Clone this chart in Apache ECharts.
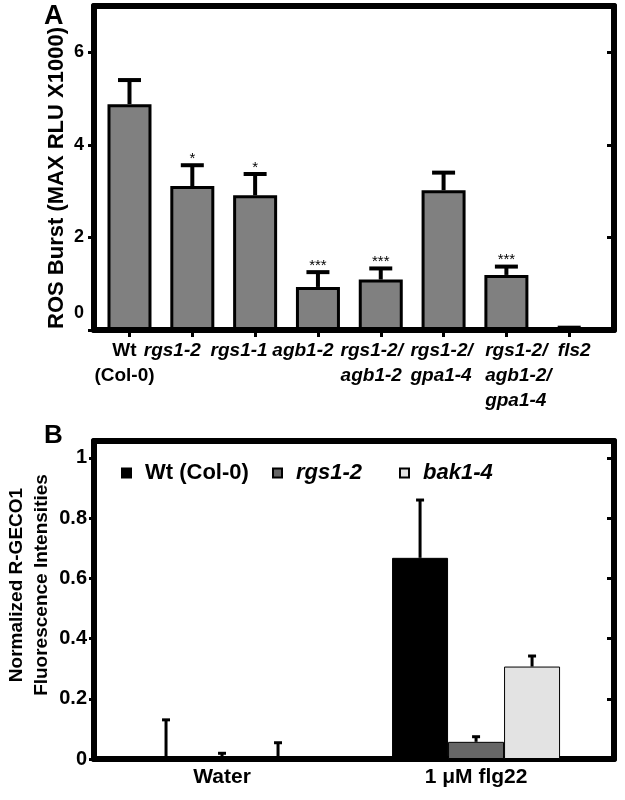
<!DOCTYPE html>
<html>
<head>
<meta charset="utf-8">
<script src="https://cdn.jsdelivr.net/npm/echarts@6/dist/echarts.min.js"></script>
<style>html,body{margin:0;padding:0;background:#fff;}#chart{width:625px;height:800px;}</style>
</head>
<body>
<div id="chart"></div>
<script>
// ---------- Panel A data ----------
const categoriesA = ['Wt\n(Col-0)', 'rgs1-2', 'rgs1-1', 'agb1-2', 'rgs1-2/\nagb1-2', 'rgs1-2/\ngpa1-4', 'rgs1-2/\nagb1-2/\ngpa1-4', 'fls2'];
const rosMean = [4.88, 3.11, 2.91, 0.93, 1.09, 3.02, 1.19, 0.02];
const rosErr = [0.52, 0.45, 0.46, 0.32, 0.24, 0.38, 0.18, 0.03];
const sigA = ['', '*', '*', '***', '***', '', '***', ''];
const ticksA = [0, 2, 4, 6];
const yTitleA = 'ROS Burst (MAX RLU X1000)';

// ---------- Panel B data ----------
const treatments = ['Water', '1 μM flg22'];
const genotypesB = ['Wt (Col-0)', 'rgs1-2', 'bak1-4'];
const wtB = [0, 0.668];
const wtErrB = [0.13, 0.192];
const rgsB = [0, 0.057];
const rgsErrB = [0.019, 0.017];
const bakB = [0, 0.307];
const bakErrB = [0.054, 0.035];
const yTitleB = 'Normalized R-GECO1\nFluorescence Intensities';

// ---------- styling ----------
const FF = '"Liberation Sans", Arial, Helvetica, sans-serif';
const BLACK = '#000';
const meansB = [wtB, rgsB, bakB];
const errsB = [wtErrB, rgsErrB, bakErrB];
const colorsB = ['#000000', '#666666', '#e3e3e3'];
const BW_B = 56;
const legendLeft = [116, 267, 394];

const idxA = categoriesA.map((_, i) => i);
// empty guard labels at the axis ends so that no real label is treated as min/max label
const labelPosA = [-0.55].concat(idxA, [7.7]);
const nudgeA = [-5, -20, -16, -15, -9, -2, 12, 5];
const richA = {};
idxA.forEach(i => {
  const d = nudgeA[i];
  richA['c' + i] = {
    fontFamily: FF, fontSize: 19, fontWeight: 'bold',
    fontStyle: i === 0 ? 'normal' : 'italic',
    color: BLACK, lineHeight: 25,
    align: i === 0 ? 'center' : 'left',
    padding: [0, d < 0 ? -2 * d : 0, 0, d > 0 ? 2 * d : 0]
  };
});

function fmtA(v) {
  if (Math.abs(v - Math.round(v)) > 1e-6) return '';
  const i = Math.round(v);
  const lab = categoriesA[i];
  if (lab === undefined) return '';
  return lab.split('\n').map(s => '{c' + i + '|' + s + '}').join('\n');
}

function errRenderA(params, api) {
  const x = api.value(0), m = api.value(1), e = api.value(2);
  const p0 = api.coord([x, m]);
  const p1 = api.coord([x, m + e]);
  const cap = 23;
  const children = [
    {type: 'line', shape: {x1: p0[0], y1: p0[1], x2: p1[0], y2: p1[1]}, style: {stroke: BLACK, lineWidth: 4}},
    {type: 'line', shape: {x1: p1[0] - cap / 2, y1: p1[1], x2: p1[0] + cap / 2, y2: p1[1]}, style: {stroke: BLACK, lineWidth: 4}}
  ];
  const s = sigA[params.dataIndex];
  if (s) {
    children.push({type: 'text', style: {text: s, x: p1[0], y: p1[1] + 1, align: 'center', verticalAlign: 'bottom',
      fontFamily: FF, fontSize: 15, fill: BLACK}});
  }
  return {type: 'group', children};
}

function makeErrRenderB(off) {
  return function (params, api) {
    const x = api.value(0), m = api.value(1), e = api.value(2);
    const p0 = api.coord([x, m]);
    const p1 = api.coord([x, m + e]);
    const cx = p0[0] + off;
    const cap = 8;
    return {type: 'group', children: [
      {type: 'line', shape: {x1: cx, y1: p0[1], x2: cx, y2: p1[1]}, style: {stroke: BLACK, lineWidth: 3}},
      {type: 'line', shape: {x1: cx - cap / 2, y1: p1[1], x2: cx + cap / 2, y2: p1[1]}, style: {stroke: BLACK, lineWidth: 3}}
    ]};
  };
}

const frameLine = {onZero: false, show: true, lineStyle: {color: BLACK, width: 6}};
const boldLabel = {fontFamily: FF, fontWeight: 'bold', color: BLACK};

const series = [
  {type: 'bar', xAxisIndex: 0, yAxisIndex: 0, silent: true,
   data: rosMean.map((v, i) => [i, v]), barWidth: 44,
   itemStyle: {color: '#808080', borderColor: BLACK, borderWidth: 3}},
  {type: 'custom', xAxisIndex: 0, yAxisIndex: 0, silent: true, z: 3,
   data: rosMean.map((v, i) => [i, v, rosErr[i]]), renderItem: errRenderA}
];
genotypesB.forEach((g, s) => {
  series.push({type: 'bar', name: g, xAxisIndex: 2, yAxisIndex: 2, silent: true,
    data: meansB[s].map((v, i) => [i, v]), barWidth: BW_B, barGap: '0%',
    itemStyle: {color: colorsB[s], borderColor: BLACK, borderWidth: 1}});
});
genotypesB.forEach((g, s) => {
  series.push({type: 'custom', xAxisIndex: 2, yAxisIndex: 2, silent: true, z: 3,
    data: meansB[s].map((v, i) => [i, v, errsB[s][i]]), renderItem: makeErrRenderB((s - 1) * BW_B)});
});

const legendRich = {
  n: {fontFamily: FF, fontSize: 22, fontWeight: 'bold', color: BLACK, padding: [0, 0, 0, 9]},
  i: {fontFamily: FF, fontSize: 22, fontWeight: 'bold', fontStyle: 'italic', color: BLACK, padding: [0, 0, 0, 9]}
};
const legends = genotypesB.map((g, k) => ({
  data: [g], left: legendLeft[k], top: 457, icon: 'rect', itemWidth: 9, itemHeight: 9,
  selectedMode: false,
  formatter: name => (k === 0 ? '{n|' : '{i|') + name + '}',
  textStyle: {fontFamily: FF, fontSize: 22, fontWeight: 'bold', color: BLACK, rich: legendRich}
}));

const option = {
  animation: false,
  backgroundColor: '#fff',
  title: [
    {text: 'A', left: 44, top: 3, padding: 0, textStyle: {fontFamily: FF, fontSize: 27, fontWeight: 'bold', color: BLACK}},
    {text: 'B', left: 44, top: 423, padding: 0, textStyle: {fontFamily: FF, fontSize: 26, fontWeight: 'bold', color: BLACK}}
  ],
  legend: legends,
  grid: [
    {left: 94, right: 11, top: 6, bottom: 470, outerBoundsMode: 'none', containLabel: false},
    {left: 94, right: 11, top: 441, bottom: 41, outerBoundsMode: 'none', containLabel: false}
  ],
  xAxis: [
    {gridIndex: 0, type: 'value', min: -0.565, max: 7.713, axisLine: frameLine,
     axisTick: {show: true, customValues: idxA, length: 7, lineStyle: {color: BLACK, width: 3}},
     axisLabel: {customValues: labelPosA, formatter: fmtA, rich: richA, margin: 8, showMinLabel: true, showMaxLabel: true, hideOverlap: false},
     splitLine: {show: false}},
    {gridIndex: 0, type: 'value', position: 'top', min: -0.565, max: 7.713, axisLine: frameLine,
     axisTick: {show: false}, axisLabel: {show: false}, splitLine: {show: false}},
    {gridIndex: 1, type: 'value', min: -0.504, max: 1.543, axisLine: frameLine,
     axisTick: {show: false},
     axisLabel: Object.assign({customValues: [0, 1], formatter: v => treatments[Math.round(v)] || '', fontSize: 21, margin: 8, showMinLabel: true, showMaxLabel: true}, boldLabel),
     splitLine: {show: false}},
    {gridIndex: 1, type: 'value', position: 'top', min: -0.504, max: 1.543, axisLine: frameLine,
     axisTick: {show: false}, axisLabel: {show: false}, splitLine: {show: false}}
  ],
  yAxis: [
    {gridIndex: 0, type: 'value', min: 0, max: 7, interval: 2, axisLine: frameLine,
     axisTick: {show: true, length: 6, lineStyle: {color: BLACK, width: 3}},
     axisLabel: Object.assign({showMaxLabel: false, fontSize: 18, margin: 10,
       formatter: v => ticksA.indexOf(v) < 0 ? '' : (v === 0 ? '{z|0}' : String(v)),
       rich: {z: {fontFamily: FF, fontSize: 18, fontWeight: 'bold', color: BLACK, padding: [0, 0, 34, 0]}}}, boldLabel),
     splitLine: {show: false},
     name: yTitleA, nameLocation: 'middle', nameGap: 26, nameMoveOverlap: false,
     nameTextStyle: {fontFamily: FF, fontSize: 22, fontWeight: 'bold', color: BLACK, padding: [0, 20, 0, 0]}},
    {gridIndex: 0, type: 'value', position: 'right', min: 0, max: 7, interval: 2, axisLine: frameLine,
     axisTick: {show: true, inside: true, length: 7, lineStyle: {color: BLACK, width: 3}},
     axisLabel: {show: false}, splitLine: {show: false}},
    {gridIndex: 1, type: 'value', min: 0, max: 1.056, interval: 0.2, axisLine: frameLine,
     axisTick: {show: true, length: 5, lineStyle: {color: BLACK, width: 3}},
     axisLabel: Object.assign({showMaxLabel: false, fontSize: 20, margin: 7}, boldLabel),
     splitLine: {show: false},
     name: yTitleB, nameLocation: 'middle', nameGap: 40, nameMoveOverlap: false,
     nameTextStyle: {fontFamily: FF, fontSize: 19, fontWeight: 'bold', color: BLACK, lineHeight: 25, padding: [0, 0, 0, 30]}},
    {gridIndex: 1, type: 'value', position: 'right', min: 0, max: 1.056, interval: 0.2, axisLine: frameLine,
     axisTick: {show: true, inside: true, length: 7, lineStyle: {color: BLACK, width: 3}},
     axisLabel: {show: false}, splitLine: {show: false}}
  ],
  series: series
};

const chart = echarts.init(document.getElementById('chart'), null, {renderer: 'canvas'});
chart.setOption(option);
</script>
</body>
</html>
